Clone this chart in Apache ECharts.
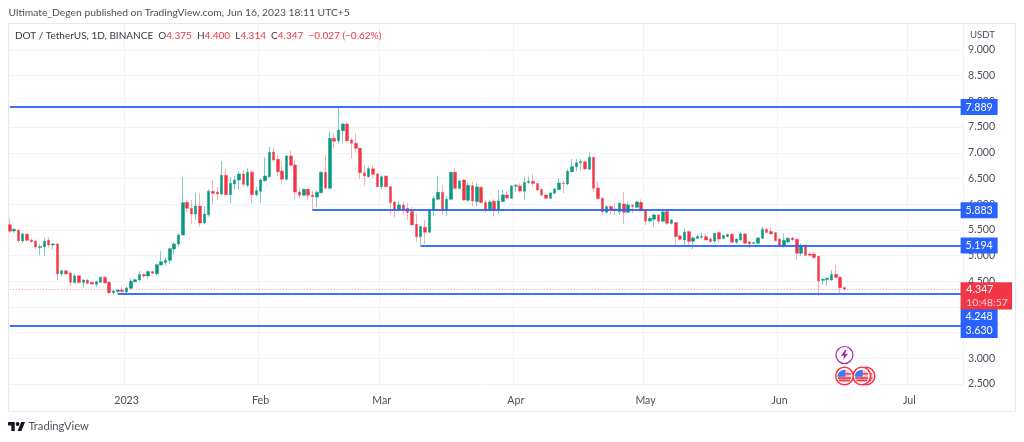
<![CDATA[<!DOCTYPE html>
<html><head><meta charset="utf-8">
<style>html,body{margin:0;padding:0;background:#fff}#c{width:1024px;height:442px}</style>
<script src="https://cdn.jsdelivr.net/npm/echarts@6/dist/echarts.min.js"></script>
</head><body><div id="c"></div>
<script>
// rows are [open, close, low, high]
const dec22 = [
[5.601,5.472,5.446,5.725],[5.478,5.51,5.433,5.523],[5.491,5.29,5.251,5.524],[5.284,5.42,5.251,5.433],[5.413,5.297,5.27,5.433],
[5.303,5.27,5.264,5.33],[5.277,5.167,5.121,5.31],[5.154,5.173,5.005,5.219],[5.173,5.277,5.0,5.342],[5.297,5.206,5.154,5.355],
[5.206,5.225,5.121,5.245],[5.225,4.642,4.525,5.251],[4.642,4.706,4.59,4.72],[4.706,4.642,4.635,4.72],[4.66,4.48,4.415,4.70],
[4.473,4.603,4.46,4.655],[4.609,4.473,4.46,4.62],[4.473,4.525,4.375,4.538],[4.525,4.46,4.44,4.544],[4.48,4.447,4.427,4.505],
[4.44,4.492,4.389,4.512],[4.48,4.577,4.473,4.59],[4.577,4.467,4.46,4.59],[4.48,4.278,4.24,4.492],[4.278,4.311,4.233,4.337],
[4.298,4.33,4.248,4.343],[4.33,4.298,4.278,4.395]];
const jan23 = [
[4.291,4.369,4.278,4.395],[4.363,4.499,4.343,4.557],[4.492,4.531,4.486,4.551],[4.525,4.629,4.512,4.694],[4.629,4.603,4.564,4.655],
[4.603,4.687,4.551,4.706],[4.687,4.655,4.642,4.706],[4.648,4.823,4.616,4.836],[4.817,4.881,4.81,5.083],[4.862,4.907,4.817,4.959],
[4.907,5.134,4.836,5.154],[5.128,5.225,5.011,5.258],[5.225,5.4,5.173,5.433],[5.4,6.029,5.394,6.522],[6.036,5.919,5.835,6.081],
[5.919,5.809,5.614,6.081],[5.809,5.964,5.692,6.224],[5.964,5.634,5.562,6.224],[5.634,5.809,5.614,5.964],[5.796,6.25,5.757,6.289],
[6.25,6.211,6.003,6.47],[6.237,6.198,6.081,6.328],[6.198,6.561,6.179,6.84],[6.561,6.185,6.172,6.691],[6.185,6.405,6.016,6.522],
[6.393,6.47,6.289,6.548],[6.47,6.587,6.276,6.639],[6.587,6.386,6.341,6.665],[6.366,6.62,6.328,6.697],[6.62,6.185,6.016,6.665],
[6.185,6.263,6.146,6.328]];
const feb23 = [
[6.25,6.47,6.029,6.503],[6.457,6.548,6.438,6.911],[6.535,7.009,6.522,7.119],[7.015,6.86,6.827,7.1],[6.873,6.633,6.548,6.957],
[6.646,6.483,6.406,6.827],[6.483,6.937,6.47,6.957],[6.937,6.756,6.73,7.041],[6.762,6.237,6.101,6.847],[6.237,6.172,6.114,6.309],
[6.172,6.289,6.159,6.302],[6.289,6.172,6.081,6.302],[6.179,6.146,5.874,6.263],[6.14,6.231,5.952,6.263],[6.224,6.62,6.211,6.633],
[6.62,6.309,6.296,6.957],[6.309,7.281,6.302,7.411],[7.281,7.223,7.087,7.378],[7.236,7.443,7.184,7.897],[7.43,7.56,7.197,7.586],
[7.56,7.236,7.197,7.586],[7.249,7.184,6.886,7.294],[7.184,7.087,7.009,7.378],[7.087,6.613,6.484,7.1],[6.613,6.548,6.354,6.762],
[6.535,6.691,6.516,6.73],[6.691,6.581,6.503,6.762],[6.587,6.341,6.328,6.6]];
const mar23 = [
[6.341,6.535,6.289,6.561],[6.548,6.341,6.309,6.561],[6.341,6.03,5.803,6.354],[6.043,5.90,5.738,6.062],[5.907,5.985,5.887,6.062],
[5.984,5.90,5.79,6.049],[5.92,5.84,5.693,6.017],[5.855,5.595,5.59,5.95],[5.608,5.368,5.27,5.81],[5.368,5.563,5.194,5.576],
[5.55,5.453,5.226,5.693],[5.453,5.887,5.433,5.90],[5.887,6.108,5.77,6.16],[6.095,6.23,6.08,6.549],[6.23,5.874,5.79,6.373],
[5.874,6.095,5.77,6.147],[6.095,6.62,6.08,6.633],[6.62,6.309,6.276,6.698],[6.309,6.451,6.289,6.471],[6.471,6.082,6.062,6.484],
[6.075,6.367,6.05,6.419],[6.36,6.062,5.952,6.438],[6.05,6.335,5.965,6.419],[6.328,6.03,6.017,6.341],[6.03,5.887,5.835,6.082],
[5.887,6.043,5.868,6.082],[6.056,5.874,5.757,6.095],[5.887,6.062,5.803,6.276],[6.05,6.179,6.036,6.276],[6.179,6.121,6.095,6.263],
[6.114,6.354,6.108,6.373]];
const apr23 = [
[6.347,6.367,6.244,6.393],[6.354,6.257,6.224,6.406],[6.25,6.419,6.095,6.536],[6.419,6.445,6.393,6.536],[6.445,6.4,6.341,6.588],
[6.4,6.276,6.263,6.419],[6.283,6.179,6.16,6.322],[6.179,6.114,6.095,6.198],[6.114,6.218,6.101,6.231],[6.211,6.296,6.198,6.322],
[6.283,6.412,6.263,6.503],[6.412,6.4,6.211,6.458],[6.393,6.639,6.373,6.685],[6.633,6.73,6.62,6.879],[6.73,6.808,6.646,6.879],
[6.808,6.827,6.665,6.873],[6.827,6.685,6.665,6.847],[6.678,6.912,6.665,7.009],[6.912,6.309,6.244,6.925],[6.315,6.108,6.082,6.438],
[6.114,5.85,5.79,6.134],[5.842,5.952,5.822,5.978],[5.952,5.887,5.79,5.978],[5.907,5.874,5.79,6.017],[5.855,6.017,5.79,6.03],
[6.004,5.842,5.615,6.231],[5.842,5.985,5.822,6.049],[5.978,5.952,5.822,6.004],[5.939,6.043,5.926,6.062],[6.036,5.874,5.855,6.095]];
const may23 = [
[5.887,5.673,5.596,5.9],[5.673,5.725,5.641,5.777],[5.706,5.79,5.563,5.822],[5.79,5.667,5.628,5.803],[5.667,5.848,5.647,5.9],
[5.855,5.628,5.596,5.887],[5.628,5.693,5.608,5.706],[5.641,5.369,5.187,5.654],[5.382,5.317,5.291,5.414],[5.304,5.459,5.206,5.531],
[5.466,5.271,5.206,5.479],[5.278,5.343,5.122,5.369],[5.33,5.369,5.317,5.401],[5.356,5.369,5.317,5.446],[5.369,5.304,5.291,5.433],
[5.323,5.271,5.239,5.356],[5.284,5.433,5.239,5.446],[5.446,5.323,5.252,5.472],[5.33,5.388,5.317,5.401],[5.369,5.408,5.356,5.433],
[5.414,5.258,5.239,5.433],[5.258,5.323,5.226,5.336],[5.304,5.42,5.291,5.453],[5.42,5.239,5.226,5.433],[5.265,5.226,5.142,5.291],
[5.239,5.252,5.219,5.271],[5.239,5.343,5.226,5.356],[5.336,5.511,5.317,5.563],[5.511,5.446,5.433,5.531],[5.466,5.421,5.401,5.544],
[5.446,5.291,5.271,5.459]];
const jun23 = [
[5.323,5.193,5.174,5.336],[5.187,5.291,5.154,5.433],[5.265,5.336,5.239,5.356],[5.343,5.304,5.291,5.369],[5.317,5.044,4.915,5.33],
[5.044,5.193,4.992,5.239],[5.206,5.005,4.979,5.219],[5.031,5.005,4.979,5.057],[5.031,4.96,4.934,5.07],[4.986,4.506,4.214,4.992],
[4.519,4.538,4.428,4.551],[4.532,4.558,4.415,4.571],[4.525,4.629,4.513,4.72],[4.636,4.571,4.558,4.817],[4.577,4.375,4.266,4.59],
[4.375,4.347,4.314,4.400]];

const firstDay = Date.UTC(2022, 11, 5);
const dayCount = 221;
const categories = Array.from({length: dayCount}, (_, i) => new Date(firstDay + i * 864e5).toISOString().slice(0, 10));
const candles = [...dec22, ...jan23, ...feb23, ...mar23, ...apr23, ...may23, ...jun23];
const lastCat = categories[dayCount - 1];

const priceTicks = [2.5, 3, 3.5, 4, 4.5, 5, 5.5, 6, 6.5, 7, 7.5, 8, 8.5, 9];
const monthLabels = {'2023-01-01':'2023','2023-02-01':'Feb','2023-03-01':'Mar','2023-04-01':'Apr','2023-05-01':'May','2023-06-01':'Jun','2023-07-01':'Jul'};
const levels = [
  {price: 7.889, from: '2022-12-05'},
  {price: 5.883, from: '2023-02-13'},
  {price: 5.194, from: '2023-03-10'},
  {price: 4.248, from: '2022-12-30'},
  {price: 3.630, from: '2022-12-05'}
];
const lastPrice = 4.347, countdown = '10:48:57';
const tagShift = {7.889: 0, 5.883: 0, 5.194: 0, 4.248: 22, 3.63: 4.5};
const UP = '#089981', DOWN = '#f23645', BLUE = '#2962ff';
const FONT = 'Lato';
const TICK_SIZE = 10.6;

const boltPath = 'path://M6,0 L0,9 L4.5,9 L3,16 L10,6 L5.5,6 L8,0 Z';
function flag(date, price) {
  const base = {coord: [date, price], label: {show: false}};
  return [
    {...base, symbol:'circle', symbolSize:17.5, itemStyle:{color:'#fff',borderColor:DOWN,borderWidth:1.5}},
    {...base, symbol:'circle', symbolSize:13, itemStyle:{color:'#fcc9cd'}},
    {...base, symbol:'rect', symbolSize:[13,1.6], symbolOffset:[0,2], itemStyle:{color:DOWN}},
    {...base, symbol:'rect', symbolSize:[11,1.6], symbolOffset:[0,4.4], itemStyle:{color:DOWN}},
    {...base, symbol:'rect', symbolSize:[5.5,1.5], symbolOffset:[3.5,-2.2], itemStyle:{color:DOWN}},
    {...base, symbol:'path://M8,0 L8,7 L0,7 C0,3 3,0 8,0 Z', symbolSize:[8,7], symbolOffset:[-3,-2.8], itemStyle:{color:'#3d79ef'}}
  ];
}
const eventMarks = [
  {coord:['2023-06-16',3.064], symbol:'circle', symbolSize:17, label:{show:false}, itemStyle:{color:'#fff',borderColor:'#9c27b0',borderWidth:1.2}},
  {coord:['2023-06-16',3.064], symbol:boltPath, symbolSize:[7,10], label:{show:false}, itemStyle:{color:'#9c27b0'}},
  ...flag('2023-06-21',2.655), ...flag('2023-06-20',2.655), ...flag('2023-06-16',2.655)
];
const tagMarks = levels.map(l => ({
  coord:[lastCat,l.price], symbol:'rect', symbolSize:[37,l.price===3.63?15:16], symbolOffset:[17.9,tagShift[l.price]],
  itemStyle:{color:BLUE,borderWidth:0},
  label:{show:true,position:'inside',formatter:l.price.toFixed(3),color:'#fff',fontFamily:FONT,fontSize:TICK_SIZE}
}));
tagMarks.push({
  coord:[lastCat,lastPrice], symbol:'rect', symbolSize:[51.5,27.4], symbolOffset:[25.1,6.8],
  itemStyle:{color:DOWN,borderWidth:0},
  label:{show:true,position:'inside',formatter:'{a|'+lastPrice.toFixed(3)+'}\n{b|'+countdown+'}',
    rich:{a:{color:'#fff',fontFamily:FONT,fontSize:TICK_SIZE,lineHeight:14,width:40,align:'left'},
          b:{color:'#fbd0d4',fontFamily:FONT,fontSize:10.4,lineHeight:13,width:40,align:'left'}}}
});

const legendRich = {
  k:{color:'#333a45',fontFamily:FONT,fontSize:10},
  v:{color:DOWN,fontFamily:FONT,fontSize:10}
};
const plainTitle = {fontFamily:FONT,fontWeight:'normal'};
const chart = echarts.init(document.getElementById('c'), null, {renderer:'canvas'});
chart.setOption({
  animation:false,
  backgroundColor:'#fff',
  title:[
    {text:'Ultimate_Degen published on TradingView.com, Jun 16, 2023 18:11 UTC+5',left:8.5,top:7.5,padding:0,
      textStyle:{...plainTitle,color:'#4a4f5a',fontSize:10.3}},
    {text:'{k|DOT / TetherUS, 1D, BINANCE}  {k|O}{v|4.375}  {k|H}{v|4.400}  {k|L}{v|4.314}  {k|C}{v|4.347}  {v|−0.027 (−0.62%)}',left:15,top:30.5,padding:0,
      textStyle:{...plainTitle,rich:legendRich,fontSize:10}},
    {text:'USDT',left:970,top:29.5,padding:0,textStyle:{...plainTitle,color:'#4a4f5a',fontSize:9.6}},
    {text:'TradingView',left:28.5,top:420.5,padding:0,textStyle:{...plainTitle,color:'#50535e',fontSize:11.2}}
  ],
  graphic:[
    {type:'rect',z:-1,shape:{x:8.5,y:23.5,width:1007,height:388},style:{fill:'none',stroke:'#e6e8ee',lineWidth:1}},
    {type:'group',x:8,y:420,scaleX:.479,scaleY:.5,children:[
      {type:'polygon',shape:{points:[[0,4],[14,4],[14,22],[7,22],[7,11],[0,11]]},style:{fill:'#131722'}},
      {type:'polygon',shape:{points:[[28,22],[20,22],[27.5,4],[35.5,4]]},style:{fill:'#131722'}},
      {type:'circle',shape:{cx:20,cy:8,r:4},style:{fill:'#131722'}}
    ]}
  ],
  grid:{left:7.6,top:24,width:955.8,height:363,containLabel:false,show:false},
  xAxis:{type:'category',data:categories,boundaryGap:true,
    axisLine:{show:false},axisTick:{show:false},
    axisLabel:{interval:(i,v)=>v in monthLabels,formatter:v=>monthLabels[v]||'',color:'#4a4f5a',fontFamily:FONT,fontSize:10.6,margin:8,hideOverlap:false},
    splitLine:{show:true,interval:(i,v)=>v in monthLabels,lineStyle:{color:'#f0f3fa',width:1}}},
  yAxis:{type:'value',position:'right',min:2.4416,max:9.506,scale:false,
    axisLine:{show:false},axisTick:{show:false,customValues:priceTicks},
    axisLabel:{customValues:priceTicks,formatter:v=>v.toFixed(3),color:'#4a4f5a',fontFamily:FONT,fontSize:TICK_SIZE,margin:4.6,align:'left'},
    splitLine:{show:true,lineStyle:{color:'#f0f3fa',width:1}}},
  series:[
    {type:'candlestick',name:'DOT/USDT',data:candles,barWidth:3,clip:false,
      itemStyle:{color:UP,color0:DOWN,borderColor:'rgba(8,153,129,.5)',borderColor0:'rgba(242,54,69,.4)',borderWidth:1}},
    {type:'line',name:'levels',data:[],clip:false,symbol:'none',silent:true,z:5,
      markLine:{silent:true,symbol:'none',animation:false,label:{show:false},
        data:[
          ...levels.map(l=>[{coord:[l.from,l.price],lineStyle:{color:BLUE,width:2,type:'solid',opacity:.9}},{coord:[lastCat,l.price]}]),
          [{coord:[categories[0],lastPrice],lineStyle:{color:DOWN,width:1,type:[1,2],opacity:.5}},{coord:[lastCat,lastPrice]}]
        ]},
      markPoint:{silent:true,animation:false,data:[...eventMarks,...tagMarks]}}
  ]
});
</script></body></html>]]>
